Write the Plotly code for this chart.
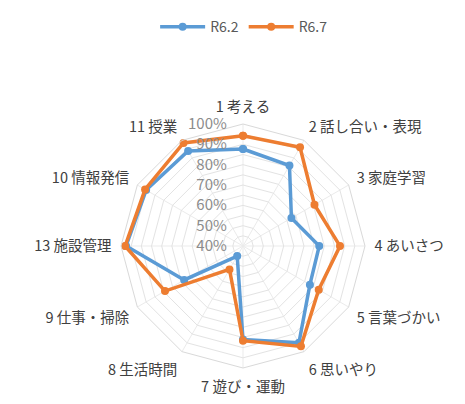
import plotly.graph_objects as go

categories = ["1 考える", "2 話し合い・表現", "3 家庭学習", "4 あいさつ", "5 言葉づかい",
              "6 思いやり", "7 遊び・運動", "8 生活時間", "9 仕事・掃除", "13 施設管理",
              "10 情報発信", "11 授業"]
r62 = [0.877, 0.857, 0.675, 0.775, 0.78, 0.95, 0.86, 0.457, 0.734, 0.975, 0.95, 0.94]
r67 = [0.942, 0.961, 0.806, 0.877, 0.83, 0.97, 0.866, 0.533, 0.843, 0.98, 0.956, 0.985]
series_names = ["R6.2", "R6.7"]
colors = ["#5B9BD5", "#ED7D31"]
ring_vals = [0.40, 0.45, 0.50, 0.55, 0.60, 0.65, 0.70, 0.75, 0.80, 0.85, 0.90, 0.95, 1.00]
ring_text = ["40%", "", "50%", "", "60%", "", "70%", "", "80%", "", "90%", "", "100%"]

W, H = 465, 404
cx, cy, R = 243, 246, 122

fig = go.Figure()
for name, vals, col in zip(series_names, [r62, r67], colors):
    fig.add_trace(go.Scatterpolar(
        r=vals + vals[:1], theta=categories + categories[:1],
        mode="lines+markers", name=name,
        line=dict(color=col, width=3.5),
        marker=dict(color=col, size=8, symbol="circle"),
    ))

nb = "\u00a0" * 4
fig.update_layout(
    width=W, height=H,
    margin=dict(l=0, r=0, t=0, b=0),
    paper_bgcolor="white",
    font=dict(family="Noto Sans CJK JP, sans-serif", color="#595959", size=13),
    showlegend=True,
    legend=dict(orientation="h", x=0.525, xanchor="center", y=0.933, yanchor="middle",
                itemwidth=45, font=dict(size=14, color="#595959")),
    polar=dict(
        domain=dict(x=[(cx - R) / W, (cx + R) / W],
                    y=[(H - cy - R) / H, (H - cy + R) / H]),
        bgcolor="white",
        gridshape="linear",
        angularaxis=dict(direction="clockwise", rotation=90,
                         categoryorder="array", categoryarray=categories,
                         showline=True, linecolor="#d9d9d9", linewidth=1,
                         gridcolor="#ebebeb",
                         ticks="outside", ticklen=6, tickcolor="rgba(0,0,0,0)",
                         tickfont=dict(size=14.5, color="#404040")),
        radialaxis=dict(range=[0.4, 1.0], tickmode="array", tickvals=ring_vals,
                        ticktext=[t + nb if t else "" for t in ring_text],
                        angle=90, tickangle=90, side="counterclockwise",
                        showline=False, ticks="",
                        gridcolor="#e3e3e3",
                        tickfont=dict(size=15, color="#8c8c8c")),
    ),
)

fig.write_html("out.html", config={"displayModeBar": False},
               post_script="document.body.style.margin='0px';")
